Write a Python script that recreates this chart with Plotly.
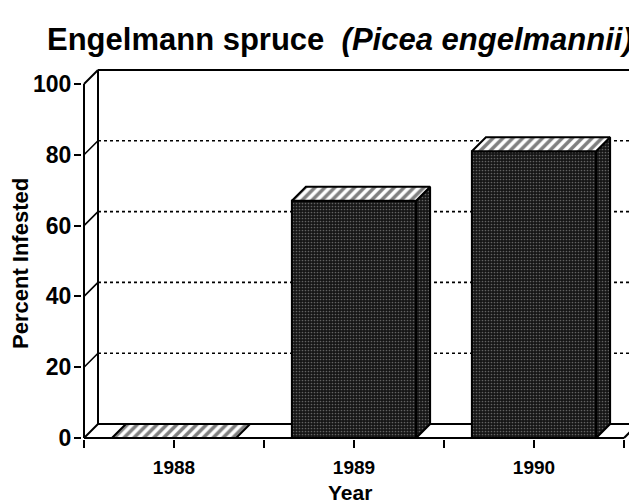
import plotly.graph_objects as go

# ---- data ----
years = ["1988", "1989", "1990"]
percent_infested = [0, 67, 81]
y_ticks = [0, 20, 40, 60, 80, 100]
title_common = "Engelmann spruce"
title_latin = "(Picea engelmannii)"
x_title = "Year"
y_title = "Percent Infested"

# ---- geometry / style constants ----
OFF = 8                     # page body margin of the browser
PX_PER_CAT = 180.0
PX_PER_PCT = 3.54
DX = 14 / PX_PER_CAT        # 3-D depth offset in category units
DY = 14 / PX_PER_PCT        # 3-D depth offset in percent units
BAR_W = 0.69
W, H = 637 - OFF, 503 - OFF
ML, MR, MT, MB = 82 - OFF, 0, 64 - OFF, 64
PLOT_W = W - ML - MR
PLOT_H = H - MT - MB
X_MIN = -0.5 - 2 / PX_PER_CAT
X_MAX = X_MIN + PLOT_W / PX_PER_CAT
Y_MIN = -1 / PX_PER_PCT
Y_MAX = Y_MIN + PLOT_H / PX_PER_PCT
X_LEFT = -0.5
X_RIGHT = len(years) - 0.5
FONT = "Liberation Sans, Arial, Helvetica, sans-serif"


def px(x_ref):
    return (x_ref - OFF - ML) / PLOT_W


def py(y_ref):
    return (H - MB - (y_ref - OFF)) / PLOT_H


fig = go.Figure()


def poly(xs, ys, fillpattern=None, fillcolor="white", lw=2):
    fig.add_trace(go.Scatter(
        x=xs + [xs[0]], y=ys + [ys[0]], mode="lines", fill="toself",
        fillcolor=fillcolor, fillpattern=fillpattern,
        line=dict(color="black", width=lw), hoverinfo="skip", showlegend=False))


def seg(xs, ys, dash="solid", width=2):
    fig.add_trace(go.Scatter(
        x=xs, y=ys, mode="lines", line=dict(color="black", width=width, dash=dash),
        hoverinfo="skip", showlegend=False))


# back-wall gridlines (dotted) and left-wall connectors
for v in y_ticks[1:-1]:
    seg([X_LEFT + DX, X_MAX], [v + DY, v + DY], dash="dot", width=1.6)
    seg([X_LEFT, X_LEFT + DX], [v, v + DY], width=1.6)

# back wall frame
seg([X_LEFT + DX, X_MAX], [y_ticks[-1] + DY, y_ticks[-1] + DY])
seg([X_LEFT + DX, X_LEFT + DX], [DY, y_ticks[-1] + DY])
seg([X_LEFT, X_LEFT + DX], [y_ticks[-1], y_ticks[-1] + DY])
# floor
seg([X_LEFT + DX, X_MAX], [DY, DY])
seg([X_LEFT, X_LEFT + DX], [0, DY])
seg([X_RIGHT, X_RIGHT + DX], [0, DY])

stipple = dict(shape=".", bgcolor="#151515", fgcolor="#b0b0b0", size=3, solidity=0.25)
hatch = dict(shape="/", bgcolor="white", fgcolor="black", size=7, solidity=0.5)

for i, v in enumerate(percent_infested):
    x0 = i - BAR_W / 2
    x1 = i + BAR_W / 2
    if v > 0:
        poly([x0, x1, x1, x0], [0, 0, v, v], fillpattern=stipple, fillcolor="#151515")
        poly([x1, x1 + DX, x1 + DX, x1], [0, DY, v + DY, v], fillpattern=stipple, fillcolor="#151515")
    poly([x0, x1, x1 + DX, x0 + DX], [v, v, v + DY, v + DY], fillpattern=hatch, fillcolor="white")

# front edges
seg([X_LEFT, X_RIGHT], [0, 0])
seg([X_LEFT, X_LEFT], [0, y_ticks[-1]])

x_tickvals = []
x_ticktext = []
for i, yr in enumerate(years):
    x_tickvals += [i - 0.5, i]
    x_ticktext += ["", "<b>%s</b>" % yr]
x_tickvals.append(X_RIGHT)
x_ticktext.append("")

fig.update_layout(
    width=W, height=H,
    margin=dict(l=ML, r=MR, t=MT, b=MB, pad=0),
    paper_bgcolor="white", plot_bgcolor="white",
    font=dict(family=FONT, color="black"),
    xaxis=dict(range=[X_MIN, X_MAX], showgrid=False, zeroline=False, showline=False,
               tickmode="array", tickvals=x_tickvals, ticktext=x_ticktext,
               ticks="outside", ticklen=8, tickwidth=2, tickcolor="black",
               ticklabelstandoff=3,
               tickfont=dict(size=19, family=FONT, color="black")),
    yaxis=dict(range=[Y_MIN, Y_MAX], showgrid=False, zeroline=False, showline=False,
               tickmode="array", tickvals=y_ticks,
               ticktext=["<b>%d</b>" % t for t in y_ticks],
               ticks="outside", ticklen=7, tickwidth=2, tickcolor="black",
               ticklabelstandoff=-2,
               tickfont=dict(size=23, family=FONT, color="black")),
    annotations=[
        dict(text="<b>%s\u00a0\u00a0<i>%s</i></b>" % (title_common, title_latin),
             xref="paper", yref="paper", x=px(339.5), y=py(40),
             xanchor="center", yanchor="middle", showarrow=False,
             font=dict(size=31, family=FONT, color="black")),
        dict(text="<b>%s</b>" % x_title, xref="paper", yref="paper",
             x=px(350), y=py(493),
             xanchor="center", yanchor="middle", showarrow=False,
             font=dict(size=21, family=FONT, color="black")),
        dict(text="<b>%s</b>" % y_title, xref="paper", yref="paper",
             x=px(20), y=py(264), textangle=-90,
             xanchor="center", yanchor="middle", showarrow=False,
             font=dict(size=22, family=FONT, color="black")),
    ],
)

fig.write_html("out.html")
